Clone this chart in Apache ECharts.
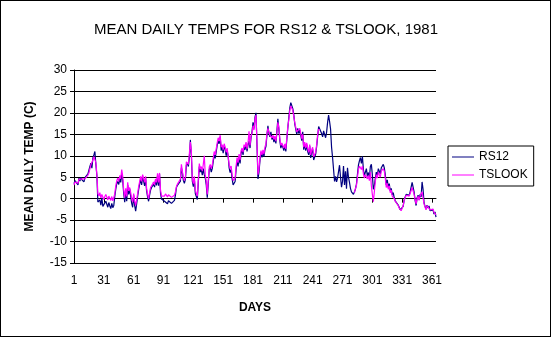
<!DOCTYPE html>
<html><head><meta charset="utf-8">
<script src="https://cdn.jsdelivr.net/npm/echarts@6/dist/echarts.min.js"></script>
<style>html,body{margin:0;padding:0;background:#fff}#c{width:551px;height:337px;box-sizing:border-box;border:1px solid #000}</style>
</head><body><div id="c"></div>
<script>
const title = "MEAN DAILY TEMPS FOR RS12 & TSLOOK, 1981";
const yTicks = [-15,-10,-5,0,5,10,15,20,25,30];
const rs12 = [
3.5,4.2,3.8,4.6,3.2,4.8,4.1,5.0,4.4,4.7,
3.9,4.9,5.3,4.5,5.8,6.2,7.5,8.3,7.1,9.5,
10.2,11.0,8.0,5.4,-0.8,-1.2,-0.3,-1.5,0.2,-1.8,
-2.2,-1.4,-0.6,-1.0,-2.0,-0.9,-1.7,-2.3,-1.1,-2.1,
-1.6,0.5,2.2,3.5,4.0,3.3,4.6,3.8,5.8,4.2,
1.2,-0.8,1.5,-0.6,3.2,1.0,2.3,0.5,-1.1,-2.0,
0.8,-1.6,-2.9,-1.2,0.6,2.1,3.4,4.5,3.2,5.0,
4.1,3.0,4.8,1.8,0.4,-0.6,0.8,2.0,2.6,2.9,
3.4,2.7,4.3,3.1,5.2,3.0,5.8,1.3,-0.1,0.3,
-0.4,-0.6,-0.2,-0.9,-1.2,-0.5,-0.8,-0.6,-1.1,-0.7,
-0.9,-0.4,0.8,2.6,3.1,2.8,3.4,4.1,7.2,6.0,
4.2,3.6,4.5,7.8,8.3,7.5,9.6,13.7,10.2,4.0,
2.8,4.6,1.2,0.5,-0.2,3.8,7.5,6.2,6.8,5.5,
7.0,5.6,4.8,3.2,0.2,3.5,6.8,7.4,6.2,7.0,
8.6,10.2,9.4,9.8,12.5,13.4,12.8,14.4,11.2,12.0,
10.6,12.4,11.5,10.0,11.2,9.9,7.2,6.1,6.8,4.6,
3.2,2.9,4.0,6.8,8.9,7.5,9.8,8.2,10.6,11.3,
10.2,12.1,11.4,12.8,11.0,12.6,13.4,11.8,14.2,15.6,
17.8,16.4,19.0,20.0,12.5,4.6,6.2,8.9,10.8,9.6,
10.9,9.8,11.4,12.2,14.8,17.0,15.2,14.4,15.6,13.8,
14.5,13.2,14.0,12.9,15.7,18.6,16.2,13.5,11.8,12.6,
12.0,11.2,12.4,11.0,13.8,16.5,18.9,21.2,22.4,22.2,
21.0,19.6,17.4,16.2,15.0,16.4,15.2,16.0,14.8,13.5,
15.6,11.4,12.8,11.2,12.6,11.0,10.2,12.3,9.5,10.8,
11.5,9.0,8.7,10.4,12.2,14.5,16.8,17.0,16.4,15.2,
14.4,15.8,15.0,14.2,15.5,17.8,19.5,18.0,16.2,12.0,
9.6,6.8,4.0,5.2,3.9,4.8,4.6,7.8,5.0,2.7,
4.0,7.6,3.2,6.4,2.3,7.2,5.0,3.8,2.4,1.6,
2.0,1.0,0.6,2.2,3.4,5.6,7.8,8.8,9.6,8.2,
9.9,6.8,5.4,6.2,7.0,5.2,6.1,4.8,7.5,8.0,
5.6,2.2,3.0,4.8,6.2,5.4,7.0,6.4,5.8,7.2,
6.9,8.0,7.2,5.6,3.2,4.4,2.6,3.5,1.8,2.4,
0.9,1.4,0.2,-0.5,-0.2,-0.9,-1.5,-2.0,-2.6,-2.9,
-2.7,-1.8,-0.3,0.4,1.0,0.6,1.4,0.8,1.6,1.2,
3.8,4.0,1.5,-0.4,-1.6,0.2,0.8,-0.2,1.0,0.4,
3.9,2.2,-1.0,-1.8,-2.4,-1.5,-2.2,-1.7,-2.8,-2.5,
-3.2,-2.6,-3.6,-3.1,-4.3
];
const tslook = [
3.2,3.9,4.0,4.3,3.6,4.5,4.4,4.8,4.6,4.5,
4.2,4.6,5.0,4.8,5.5,6.0,7.0,7.9,7.6,9.0,
9.8,10.0,8.4,5.6,1.2,0.6,1.4,0.2,1.0,0.4,
-0.2,0.5,1.0,0.4,-0.3,0.6,0.2,-0.4,0.5,-0.5,
0.2,1.2,3.0,4.2,4.8,4.0,5.4,4.6,6.8,5.2,
2.0,0.2,2.4,0.5,3.8,1.8,2.6,1.4,0.0,-0.8,
1.2,-0.6,-1.6,-0.3,1.2,2.8,4.0,5.2,4.0,5.6,
4.8,3.8,5.2,2.4,1.0,0.0,1.4,2.6,3.0,3.4,
3.9,3.2,4.6,3.8,5.9,3.8,6.0,2.0,0.6,1.0,
0.8,0.6,1.1,0.7,0.4,0.9,0.5,0.7,0.3,0.6,
0.2,0.8,1.6,2.8,3.4,3.0,3.8,4.6,8.0,6.4,
4.8,4.2,5.0,8.6,9.0,8.0,10.5,13.2,11.0,4.6,
3.5,5.2,2.0,1.2,0.6,4.5,8.2,7.0,7.5,6.4,
8.0,10.0,5.6,4.0,1.0,4.2,7.4,8.0,7.0,7.8,
9.4,11.0,10.2,10.6,13.0,14.2,13.4,14.8,12.0,12.6,
11.4,12.8,12.0,10.8,11.8,11.4,8.0,7.0,7.6,5.6,
4.2,3.8,4.8,7.6,9.6,8.4,10.4,9.0,11.2,11.8,
10.8,12.6,12.0,13.2,11.6,13.0,15.7,12.4,14.6,15.2,
17.0,16.0,18.6,19.5,13.0,5.6,7.0,9.4,11.2,10.2,
11.4,10.4,12.0,12.8,15.2,16.4,15.6,14.8,15.2,14.2,
14.8,13.8,14.6,13.4,15.2,17.8,16.6,14.0,12.4,13.0,
12.6,11.8,12.8,11.6,14.2,16.8,18.4,20.6,21.6,21.8,
20.6,19.2,17.8,16.6,15.6,16.0,15.8,16.4,15.2,14.0,
15.0,12.0,13.2,11.8,13.0,11.6,10.8,12.6,10.2,11.4,
12.0,9.8,9.4,10.8,12.6,15.0,16.2,16.0,null,null,
null,null,null,null,null,null,null,null,null,null,
null,null,null,null,null,null,null,null,null,null,
null,null,null,null,null,null,null,null,null,null,
null,null,1.4,2.4,3.0,5.0,6.8,7.6,7.2,6.8,
7.6,5.8,4.8,5.6,6.0,4.6,5.4,4.2,6.2,3.0,
1.0,-0.7,1.6,4.0,5.6,4.8,6.2,5.6,5.0,6.4,
6.2,7.0,6.4,4.8,2.6,3.6,2.2,3.0,1.4,2.0,
0.6,1.0,0.0,-0.6,-0.4,-1.0,-1.6,-2.2,-2.6,-2.8,
-2.4,-1.6,-0.4,0.2,0.8,0.4,1.0,0.6,1.2,1.0,
2.6,2.8,1.0,-0.2,-1.2,0.0,0.6,-0.4,0.6,0.2,
1.6,1.2,-1.2,-2.0,-2.6,-1.6,-2.0,-1.8,-2.6,-2.2,
-2.8,-2.4,-3.2,-2.8,-3.8
];
const days = rs12.map((_, i) => String(i + 1));

const chart = echarts.init(document.getElementById('c'), null, {renderer: 'canvas'});
const font = 'Liberation Sans, Arial, sans-serif';
chart.setOption({
  animation: false,
  backgroundColor: '#fff',
  title: {text: title, left: 260, top: 16, textAlign: 'center',
    textStyle: {fontFamily: font, fontSize: 15, fontWeight: 'normal', color: '#000'}},
  legend: {
    left: 447, top: 145, orient: 'vertical', itemGap: 6,
    padding: [5, 6, 5, 4],
    borderColor: '#000', borderWidth: 1, itemWidth: 22, itemHeight: 1,
    icon: 'rect',
    textStyle: {fontFamily: font, fontSize: 12, color: '#000'},
    data: ['RS12', 'TSLOOK']
  },
  grid: {left: 73, right: 114, top: 69, bottom: 73, containLabel: false},
  xAxis: {
    type: 'category', data: days, boundaryGap: false,
    name: 'DAYS', nameLocation: 'middle', nameGap: 39,
    nameTextStyle: {fontFamily: font, fontSize: 12, fontWeight: 'bold', color: '#000'},
    axisLine: {lineStyle: {color: '#000', width: 1}},
    axisTick: {interval: 29, length: 4, lineStyle: {color: '#000'}},
    axisLabel: {interval: 29, margin: 12, fontFamily: font, fontSize: 12, color: '#000'},
    splitLine: {show: false}
  },
  yAxis: {
    type: 'value', min: -15, max: 30, interval: 5,
    name: 'MEAN DAILY TEMP (C)', nameLocation: 'middle', nameGap: 38, nameRotate: 90,
    nameTextStyle: {fontFamily: font, fontSize: 12, fontWeight: 'bold', color: '#000'},
    axisLine: {show: true, lineStyle: {color: '#000', width: 1}},
    axisTick: {show: true, length: 4, lineStyle: {color: '#000'}},
    axisLabel: {margin: 7, fontFamily: font, fontSize: 12, color: '#000'},
    splitLine: {lineStyle: {color: '#000', width: 1}}
  },
  series: [
    {name: 'RS12', type: 'line', data: rs12, symbol: 'none', connectNulls: false,
      lineStyle: {color: '#000080', width: 1.2}, itemStyle: {color: '#000080'}},
    {name: 'TSLOOK', type: 'line', data: tslook, symbol: 'none', connectNulls: false,
      lineStyle: {color: '#ff00ff', width: 1.2}, itemStyle: {color: '#ff00ff'}}
  ]
});
</script></body></html>
